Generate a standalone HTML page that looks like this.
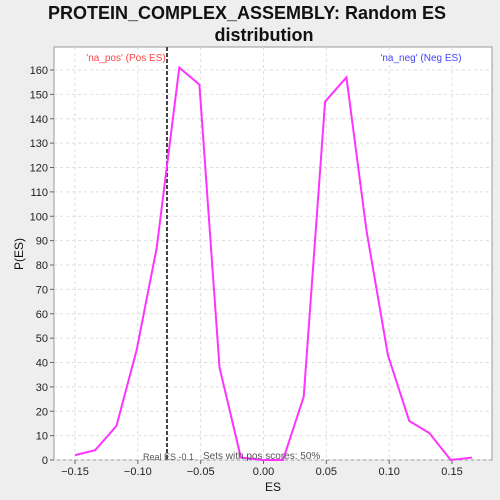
<!DOCTYPE html>
<html><head><meta charset="utf-8"><style>
html,body{margin:0;background:#eeeeee;width:500px;height:500px;overflow:hidden;font-family:"Liberation Sans",sans-serif}
svg{display:block}
</style></head><body>
<svg id="chart" width="500" height="500" font-family="Liberation Sans, DejaVu Sans, sans-serif">
<text x="247" y="19" text-anchor="middle" font-size="18" font-weight="bold" fill="#111">PROTEIN_COMPLEX_ASSEMBLY: Random ES</text>
<text x="264" y="41" text-anchor="middle" font-size="18" font-weight="bold" fill="#111">distribution</text>
<rect x="54" y="47" width="438" height="413" fill="#fff" stroke="#999"/>
<g id="grid"></g><g id="axes"></g><g id="marks"></g>
<text x="126" y="61" text-anchor="middle" font-size="10" fill="#ff4444">'na_pos' (Pos ES)</text>
<text x="421" y="61" text-anchor="middle" font-size="10" fill="#4444ff">'na_neg' (Neg ES)</text>
<text x="273" y="491" text-anchor="middle" font-size="12" fill="#111">ES</text>
<text x="23" y="254" text-anchor="middle" font-size="12" fill="#111" transform="rotate(-90 23 254)">P(ES)</text>
<text x="143" y="460" font-size="9" fill="#555">Real ES -0.1</text>
<text x="203" y="459" font-size="10" fill="#555">Sets with pos scores: 50%</text>
</svg>
<script>
const xValues=[-0.150,-0.134,-0.117,-0.101,-0.085,-0.067,-0.051,-0.035,-0.018,-0.001,0.0155,0.032,0.049,0.066,0.082,0.099,0.116,0.132,0.149,0.166];
const yValues=[2,4,14,45,87,161,154,38,1,0,0,26,147,157,94,43,16,11,0,1];
const xTicks=[-0.15,-0.10,-0.05,0.00,0.05,0.10,0.15];
const xTickLabels=["-0.15","-0.10","-0.05","0.00","0.05","0.10","0.15"];
const yTicks=[0,10,20,30,40,50,60,70,80,90,100,110,120,130,140,150,160];
const realES=[-0.0768];
const X=v=>263.5+v*1256.7, Y=v=>460-v*2.4375;
const ns="http://www.w3.org/2000/svg";
const g=document.getElementById('grid'),a=document.getElementById('axes'),m=document.getElementById('marks');
function mk(p,t,at){const e=document.createElementNS(ns,t);for(const k in at)e.setAttribute(k,at[k]);p.appendChild(e);return e;}
xTicks.forEach((v,i)=>{
 const l=mk(g,'line',{x1:X(v),x2:X(v),y1:47,y2:460,stroke:'#ddd','stroke-dasharray':'3,3'});
 
 
 mk(a,'line',{x1:X(v),x2:X(v),y1:460,y2:464,stroke:'#666'});
 const t=mk(a,'text',{x:X(v),y:475,'text-anchor':'middle','font-size':'11',fill:'#222'});t.textContent=xTickLabels[i].replace('-','\u2212');
 
 
});
yTicks.forEach(v=>{
 const l=mk(g,'line',{x1:54,x2:492,y1:Y(v),y2:Y(v),stroke:'#ddd','stroke-dasharray':'3,3'});
 
 
 mk(a,'line',{x1:50,x2:54,y1:Y(v),y2:Y(v),stroke:'#666'});
 const t=mk(a,'text',{x:48,y:Y(v)+4,'text-anchor':'end','font-size':'11',fill:'#222'});t.textContent=v;
 
 
});
realES.forEach(v=>{
 const l=mk(m,'line',{x1:X(v),x2:X(v),y1:47,y2:460,stroke:'#444','stroke-width':2,'stroke-dasharray':'4,2'});
 
 
});
const p=mk(m,'polyline',{points:xValues.map((x,i)=>X(x)+','+Y(yValues[i])).join(' '),fill:'none',stroke:'#ff33ff','stroke-width':2});


</script>
</body></html>
